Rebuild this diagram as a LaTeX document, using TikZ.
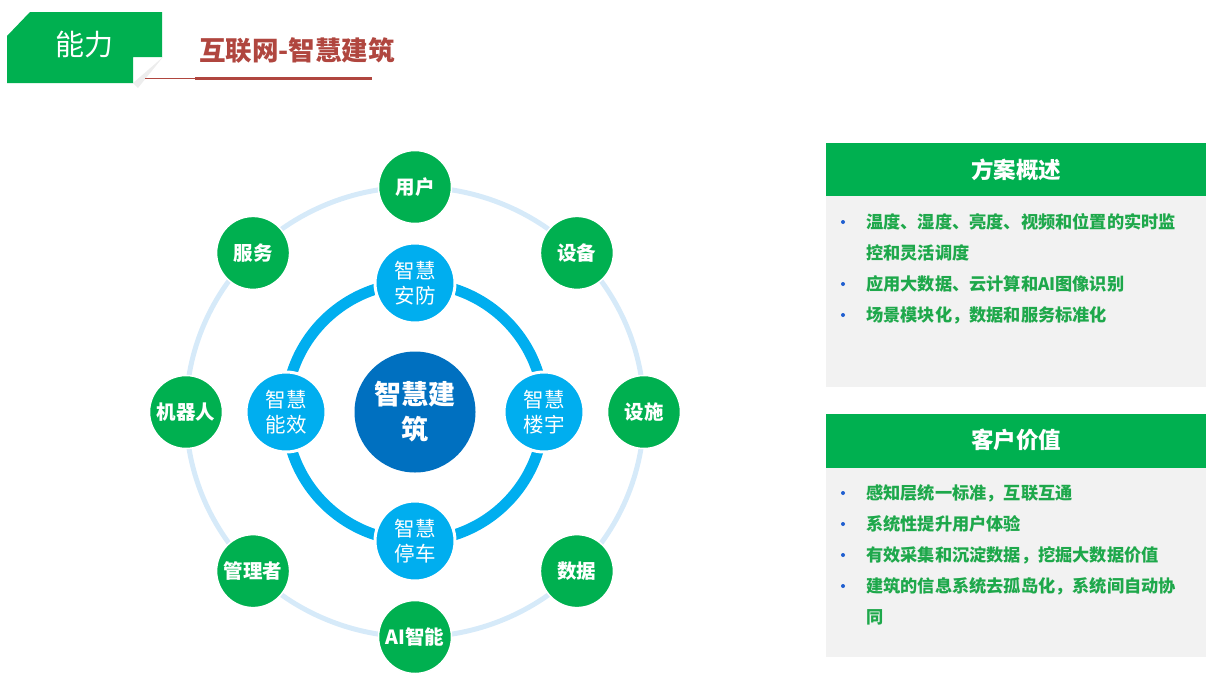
\documentclass[tikz,border=0pt]{standalone}
\usepackage{fontspec}
\setmainfont{Noto Sans CJK SC}
\usetikzlibrary{calc, positioning}

\definecolor{bangreen}{HTML}{00B050}
\definecolor{txtgreen}{HTML}{1EA84B}
\definecolor{ringblue}{HTML}{00AEEF}
\definecolor{paleblue}{HTML}{D6EAF9}
\definecolor{coreblue}{HTML}{0070C0}
\definecolor{titlered}{HTML}{B0463F}
\definecolor{panelgray}{HTML}{F2F2F2}
\definecolor{dotblue}{HTML}{1F5FD0}

\tikzset{
  outernode/.style={circle, fill=bangreen, draw=white, line width=1.5pt,
    minimum size=73pt, inner sep=0pt, text=white,
    font=\fontsize{19.5}{21}\selectfont\bfseries},
  innernode/.style={circle, fill=ringblue, draw=white, line width=3pt,
    minimum size=80pt, inner sep=0pt, text=white, align=center,
    font=\fontsize{20.5}{25}\selectfont},
  corenode/.style={circle, fill=coreblue, minimum size=121pt, inner sep=0pt,
    text=white, align=center, font=\fontsize{27}{35}\selectfont\bfseries},
  panelhead/.style={text=white, font=\fontsize{22.5}{24}\selectfont\bfseries},
  item/.style={anchor=west, inner sep=0pt, text=txtgreen, align=left,
    font=\fontsize{17.2}{31}\selectfont\bfseries},
  dot/.style={circle, fill=dotblue, minimum size=4pt, inner sep=0pt}
}

\begin{document}
\begin{tikzpicture}[x=1pt, y=-1pt]
\def\rx{229}
\def\ry{225}
\def\rin{129}
\useasboundingbox (0,0) rectangle (1209,686);

% banner
\fill[black!7] (133,83) -- (163,57) -- (138,88) -- cycle;
\fill[bangreen] (7,36) -- (30,12) -- (162,12) -- (162,57) -- (133,57)
    -- (133,83) -- (7,83) -- cycle;
\node[text=white, font=\fontsize{29}{31}\selectfont] (cap) at (84,45) {能力};
\node[text=titlered, font=\fontsize{26.5}{28}\selectfont\bfseries] (title)
    at (297,50) {互联网-智慧建筑};
\draw[titlered, line width=1.2pt] (145,78.5) -- (195,78.5);
\draw[titlered, line width=3pt] (195,78.5) -- (372,78.5);

% rings
\coordinate (C) at (415,412);
\draw[paleblue, line width=5pt] (C) ellipse [x radius=\rx, y radius=\ry];
\draw[ringblue, line width=11pt] (C) circle (\rin);
\node[corenode] (core) at (C) {智慧建\\筑};

\node[innernode] (anfang) at ($(C)+(0,-\rin)$) {智慧\\安防};
\node[innernode] (louyu) at ($(C)+(\rin,0)$) {智慧\\楼宇};
\node[innernode] (tingche) at ($(C)+(0,\rin)$) {智慧\\停车};
\node[innernode] (nengxiao) at ($(C)+(-\rin,0)$) {智慧\\能效};

\foreach \ang/\name/\txt in {90/yonghu/用户, 45/shebei/设备, 0/sheshi/设施,
    -45/shuju/数据, -90/ai/AI智能, -135/guanli/管理者, 180/jiqi/机器人,
    135/fuwu/服务}
  \node[outernode] (\name) at ($(C)+({\rx*cos(\ang)},{-\ry*sin(\ang)})$) {\txt};

% panel one
\fill[bangreen] (826,143) rectangle (1206,196);
\fill[panelgray] (826,196) rectangle (1206,387);
\node[panelhead] (head1) at (1016,170) {方案概述};
\node[item] (a1) at (866,237.5) {温度、湿度、亮度、视频和位置的实时监\\控和灵活调度};
\node[item] (a2) at (866,284) {应用大数据、云计算和AI图像识别};
\node[item] (a3) at (866,315) {场景模块化，数据和服务标准化};
\foreach \y in {222,284,315}
  \node[dot] at (843,\y) {};

% panel two
\fill[bangreen] (826,414) rectangle (1206,468);
\fill[panelgray] (826,468) rectangle (1206,657);
\node[panelhead] (head2) at (1016,440) {客户价值};
\node[item] (b1) at (866,493) {感知层统一标准，互联互通};
\node[item] (b2) at (866,524) {系统性提升用户体验};
\node[item] (b3) at (866,555) {有效采集和沉淀数据，挖掘大数据价值};
\node[item] (b4) at (866,601.5) {建筑的信息系统去孤岛化，系统间自动协\\同};
\foreach \y in {493,524,555,586}
  \node[dot] at (843,\y) {};
\end{tikzpicture}
\end{document}
